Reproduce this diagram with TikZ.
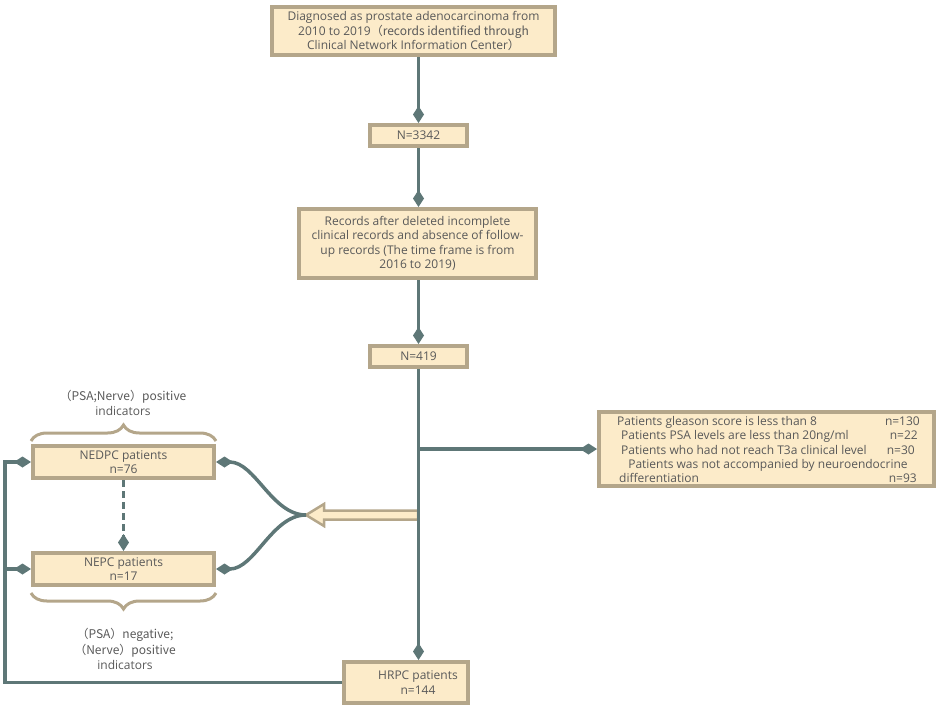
\documentclass[tikz,border=0pt]{standalone}
\usepackage{fontspec}
\setmainfont{Open Sans}
\newfontfamily\cjk{Noto Sans CJK SC}
\usetikzlibrary{arrows.meta,decorations.pathreplacing}
\definecolor{boxfill}{HTML}{FCEBC9}
\definecolor{boxline}{HTML}{B4A68A}
\definecolor{connc}{HTML}{5E7777}
\definecolor{txt}{HTML}{595959}
\begin{document}
\begin{tikzpicture}[x=1pt,y=-1pt,
  box/.style={draw=boxline, fill=boxfill, line width=4pt, text=txt, align=center,
    font=\fontsize{12}{14.5}\selectfont, inner sep=0pt},
  lbl/.style={text=txt, align=center, font=\fontsize{12}{15.5}\selectfont, inner sep=0pt},
  rtxt/.style={text=txt, font=\fontsize{12}{14}\selectfont, inner sep=0pt, text height=9pt, text depth=3pt},
  conn/.style={draw=connc, line width=3.5pt},
  dia/.style={-{Diamond[length=17pt,width=11pt]}},
  brc/.style={draw=boxline, line width=3pt, decorate, decoration={brace, amplitude=16pt}}]
\useasboundingbox (0,0) rectangle (941,707);
% boxes
\node[box, minimum width=283, minimum height=48] (b1) at (413.5,31)
  {Diagnosed as prostate adenocarcinoma from\\2010 to 2019\cjk{（}records identified through\\Clinical Network Information Center\cjk{）}};
\node[box, minimum width=97, minimum height=21] (n1) at (418.5,135.5) {N=3342};
\node[box, minimum width=237, minimum height=69] (b3) at (417.5,243.5)
  {Records after deleted incomplete\\clinical records and absence of follow-\\up records (The time frame is from\\2016 to 2019)};
\node[box, minimum width=97, minimum height=21] (n2) at (418.5,356.5) {N=419};
\node[box, minimum width=335, minimum height=74] (rb) at (766.5,449) {};
\node[box, minimum width=181, minimum height=32] (nedpc) at (123.5,462) {NEDPC patients\\n=76};
\node[box, minimum width=181, minimum height=32] (nepc) at (123.5,569) {NEPC patients\\n=17};
\node[box, minimum width=124, minimum height=41] (hrpc) at (406,682.5) {};
\node[lbl, font=\fontsize{12}{14.5}\selectfont] (hrpct) at (418,682.5) {HRPC patients\\n=144};
% right box text
\node[rtxt, anchor=west] (r1a) at (617,422) {Patients gleason score is less than 8};
\node[rtxt, anchor=east] (r1b) at (920,422) {n=130};
\node[rtxt, anchor=west] (r2a) at (621,436) {Patients PSA levels are less than 20ng/ml};
\node[rtxt, anchor=east] (r2b) at (918,436) {n=22};
\node[rtxt, anchor=west] (r3a) at (621,451) {Patients who had not reach T3a clinical level};
\node[rtxt, anchor=east] (r3b) at (915,451) {n=30};
\node[rtxt] (r4) at (768,465) {Patients was not accompanied by neuroendocrine};
\node[rtxt, anchor=west] (r5a) at (619,479) {differentiation};
\node[rtxt, anchor=east] (r5b) at (917,479) {n=93};
% labels
\node[lbl] (ltop) at (123,403) {\cjk{（}PSA;Nerve\cjk{）}positive\\indicators};
\node[lbl] (lbot) at (125,649) {\cjk{（}PSA\cjk{）}negative;\\\cjk{（}Nerve\cjk{）}positive\\indicators};
% braces
\draw[brc] (31,441) -- (216,441);
\draw[brc] (216,593) -- (31,593);
% coordinates
\coordinate (j1) at (418,449);
\coordinate (j2) at (418,515);
\coordinate (tip) at (306,515);
\coordinate (L1) at (5,462);
\coordinate (L2) at (5,569);
% hollow arrow
\filldraw[fill=boxfill, draw=boxline, line width=2.5pt, line join=miter]
  (j2) ++(0,-4.5) -- ++(-94,0) -- ++(0,-6.5) -- (tip) -- ++(18,11) -- ++(0,-6.5) -- ++(94,0) -- cycle;
% connectors
\draw[conn, dia] (n1.north |- b1.south) -- (n1.north);
\draw[conn, dia] (n1.south) -- (n1.south |- b3.north);
\draw[conn, dia] (b3.south -| n2.north) -- (n2.north);
\draw[conn, dia] (n2.south) -- (n2.south |- hrpc.north);
\draw[conn, dia] (j1) -- (rb.west);
\draw[conn, dia] (tip) .. controls (272,515) and (255,462) .. (nedpc.east);
\draw[conn, dia] (tip) .. controls (272,515) and (255,569) .. (nepc.east);
\draw[conn, dia] (hrpc.west) -| (L1) -- (nedpc.west);
\draw[conn, dia] (L2) -- (nepc.west);
\draw[conn, dia, dash pattern=on 7pt off 4pt] (nedpc.south) -- (nepc.north);
\end{tikzpicture}
\end{document}
